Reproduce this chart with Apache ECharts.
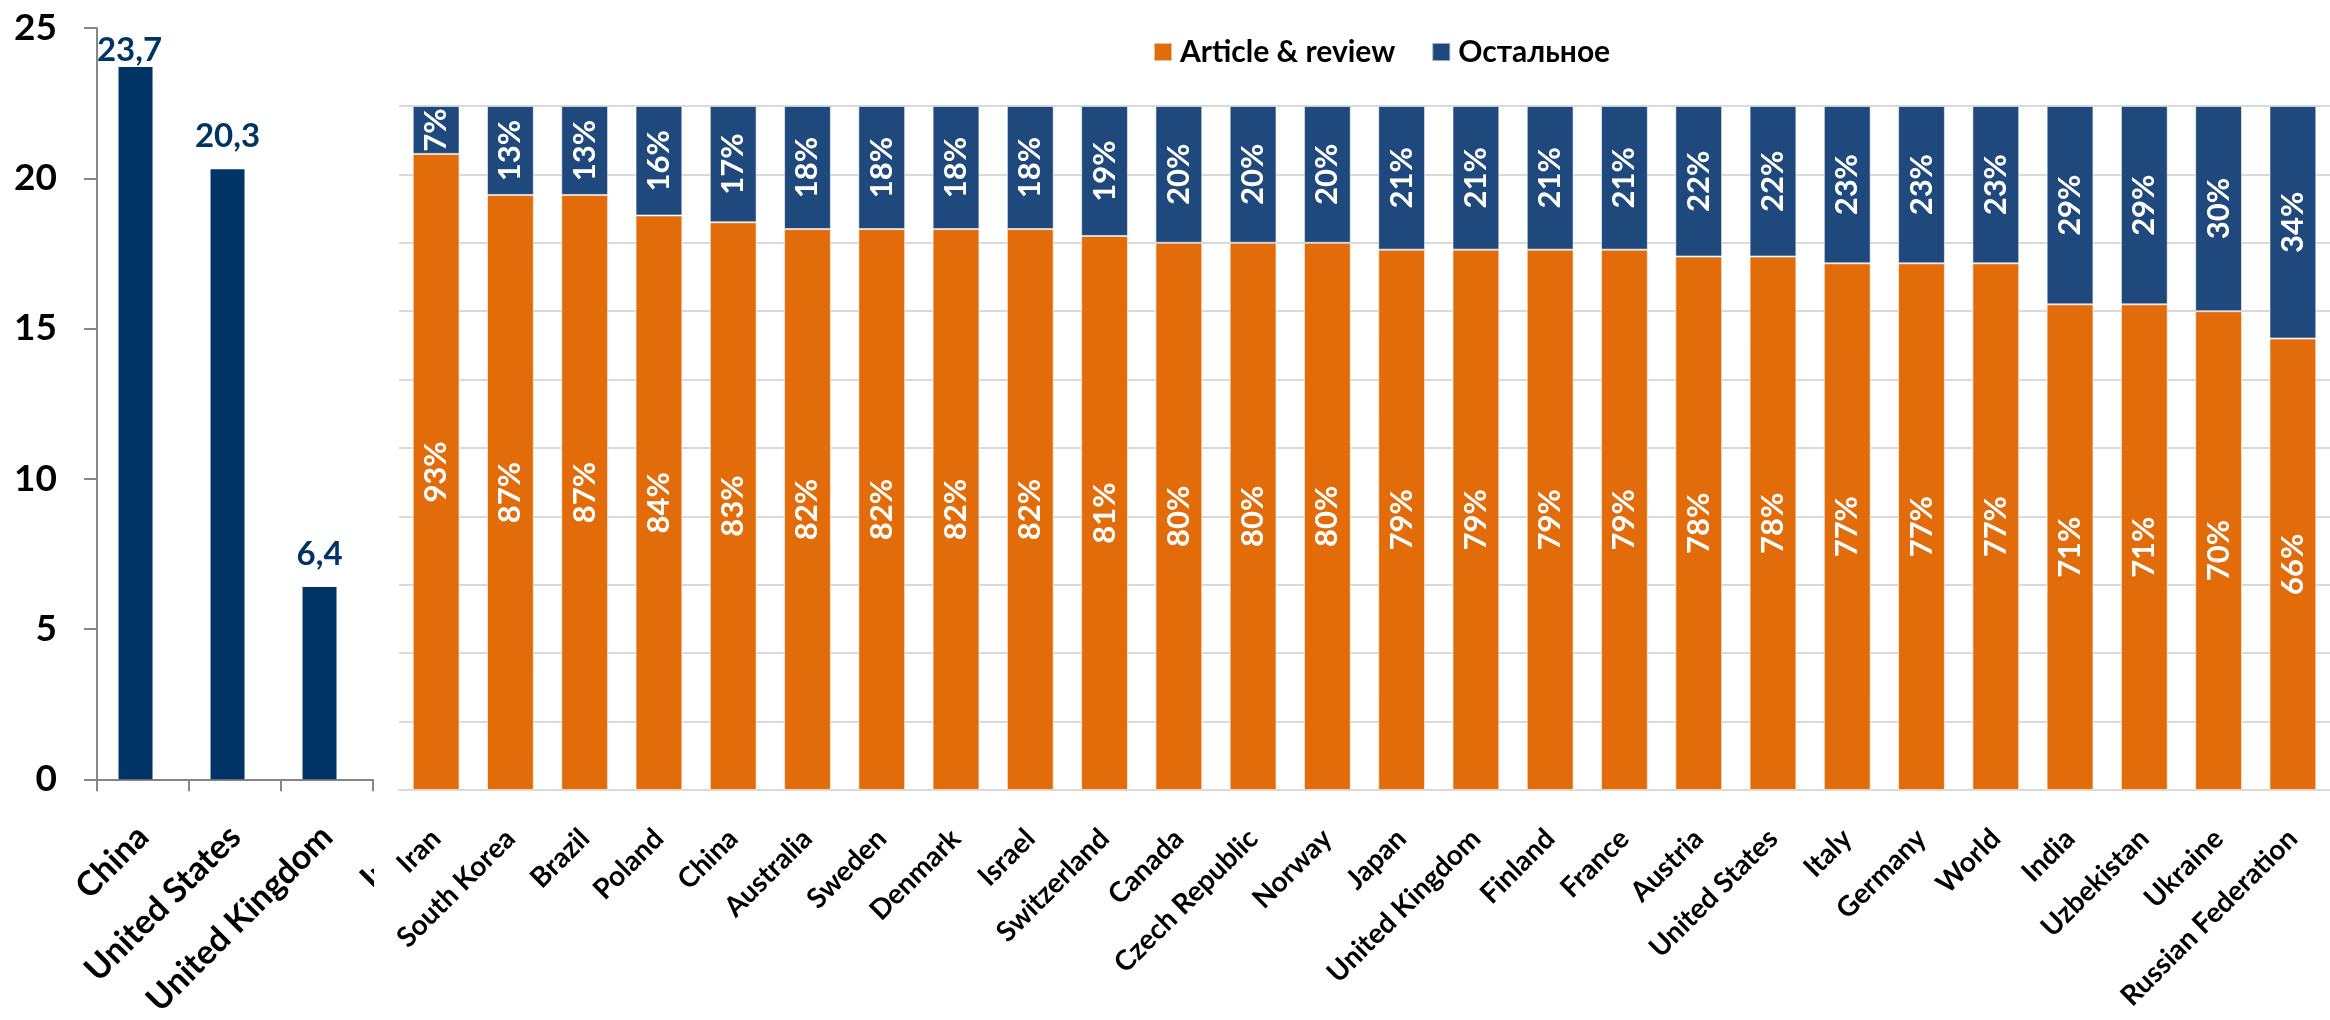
<!DOCTYPE html>
<html>
<head>
<meta charset="utf-8">
<style>
  html, body { margin: 0; padding: 0; background: #fff; }
  #chart { width: 2330px; height: 1020px; }
</style>
<script src="https://cdn.jsdelivr.net/npm/echarts@6/dist/echarts.min.js"></script>
</head>
<body>
<div id="chart"></div>
<script>
// Left panel: totals per country
const leftCategories = ['China', 'United States', 'United Kingdom', 'India'];
const leftValues = [23.7, 20.3, 6.4, null];

// Left value axis
const leftAxisMin = 0;
const leftAxisMax = 25;
const leftAxisStep = 5;

// Right panel: share of document types, percent
const rightCategories = [
  'Iran', 'South Korea', 'Brazil', 'Poland', 'China', 'Australia', 'Sweden',
  'Denmark', 'Israel', 'Switzerland', 'Canada', 'Czech Republic', 'Norway',
  'Japan', 'United Kingdom', 'Finland', 'France', 'Austria', 'United States',
  'Italy', 'Germany', 'World', 'India', 'Uzbekistan', 'Ukraine', 'Russian Federation'
];
const articleShare = [93, 87, 87, 84, 83, 82, 82, 82, 82, 81, 80, 80, 80, 79, 79, 79, 79, 78, 78, 77, 77, 77, 71, 71, 70, 66];
const otherShare   = [7, 13, 13, 16, 17, 18, 18, 18, 18, 19, 20, 20, 20, 21, 21, 21, 21, 22, 22, 23, 23, 23, 29, 29, 30, 34];

const seriesNames = ['Article & review', 'Остальное'];

const FONT = 'Lato, "Noto Sans", "DejaVu Sans", sans-serif';
const NAVY = '#003366';
const ORANGE = '#E36C0A';
const BLUE = '#1F497D';
const AXIS_GREY = '#868686';
const GRID_GREY = '#D9D9D9';

const chart = echarts.init(document.getElementById('chart'), null, { renderer: 'canvas' });

const leftData = leftValues.map((v, i) => {
  if (i === 0) {
    // the tallest label sits tight against the top of the plot
    return { value: v, label: { distance: 0, offset: [-6, 0] } };
  }
  return v;
});

const option = {
  backgroundColor: '#fff',
  animation: false,
  textStyle: { fontFamily: FONT },
  legend: {
    data: seriesNames,
    left: 1148,
    top: 32,
    itemWidth: 18,
    itemHeight: 18,
    itemGap: 36,
    icon: 'rect',
    z: 6,
    textStyle: {
      fontFamily: FONT,
      fontWeight: 'bold',
      fontSize: 30,
      color: '#000',
      padding: [0, 0, 0, 3]
    }
  },
  grid: [
    { left: 97, top: 28, width: 368, height: 752 },
    { left: 399, top: 106, width: 1941, height: 684 }
  ],
  xAxis: [
    {
      type: 'category',
      gridIndex: 0,
      data: leftCategories,
      z: 0,
      axisLine: { show: true, lineStyle: { color: AXIS_GREY, width: 2 } },
      axisTick: { show: true, length: 12, lineStyle: { color: AXIS_GREY, width: 2 } },
      axisLabel: {
        interval: 0,
        rotate: 45,
        margin: 52,
        fontFamily: FONT,
        fontWeight: 'bold',
        fontSize: 34,
        color: '#000'
      }
    },
    {
      type: 'category',
      gridIndex: 1,
      data: rightCategories,
      z: 3,
      axisLine: { show: true, lineStyle: { color: GRID_GREY, width: 2 } },
      axisTick: { show: false },
      axisLabel: {
        interval: 0,
        rotate: 45,
        margin: 44,
        fontFamily: FONT,
        fontWeight: 'bold',
        fontSize: 28,
        color: '#000'
      }
    }
  ],
  yAxis: [
    {
      type: 'value',
      gridIndex: 0,
      min: leftAxisMin,
      max: leftAxisMax,
      interval: leftAxisStep,
      z: 0,
      axisLine: { show: true, lineStyle: { color: AXIS_GREY, width: 2 } },
      axisTick: { show: true, length: 13, lineStyle: { color: AXIS_GREY, width: 2 } },
      splitLine: { show: false },
      axisLabel: {
        margin: 40,
        fontFamily: FONT,
        fontWeight: 'bold',
        fontSize: 37,
        color: '#000'
      }
    },
    {
      type: 'value',
      gridIndex: 1,
      min: 0,
      max: 100,
      interval: 10,
      z: 3,
      axisLine: { show: false },
      axisTick: { show: false },
      axisLabel: { show: false },
      splitLine: { show: true, lineStyle: { color: GRID_GREY, width: 2 } }
    }
  ],
  graphic: [
    {
      // white panel behind the share chart
      type: 'rect',
      left: 374,
      top: 0,
      z: 2,
      silent: true,
      shape: { width: 1956, height: 1020 },
      style: { fill: '#fff' }
    }
  ],
  series: [
    {
      type: 'bar',
      xAxisIndex: 0,
      yAxisIndex: 0,
      z: 1,
      data: leftData,
      barWidth: 34,
      barGap: '-56%',
      itemStyle: { color: NAVY },
      label: {
        show: true,
        position: 'top',
        distance: 16,
        fontFamily: FONT,
        fontWeight: 'bold',
        fontSize: 33,
        color: NAVY,
        formatter: p => String(p.value).replace('.', ',')
      }
    },
    {
      type: 'bar',
      xAxisIndex: 0,
      yAxisIndex: 0,
      z: 1,
      data: leftValues.map(() => null),
      barWidth: 34,
      itemStyle: { color: NAVY }
    },
    {
      name: seriesNames[0],
      type: 'bar',
      xAxisIndex: 1,
      yAxisIndex: 1,
      stack: 'share',
      z: 4,
      barCategoryGap: '37%',
      data: articleShare,
      itemStyle: { color: ORANGE, borderColor: 'rgba(255,255,255,0.55)', borderWidth: 1 },
      label: {
        show: true,
        position: 'inside',
        rotate: 90,
        fontFamily: FONT,
        fontWeight: 'bold',
        fontSize: 31,
        color: '#fff',
        formatter: p => p.value + '%'
      }
    },
    {
      name: seriesNames[1],
      type: 'bar',
      xAxisIndex: 1,
      yAxisIndex: 1,
      stack: 'share',
      z: 4,
      barCategoryGap: '37%',
      data: otherShare,
      itemStyle: { color: BLUE, borderColor: 'rgba(255,255,255,0.55)', borderWidth: 1 },
      label: {
        show: true,
        position: 'inside',
        rotate: 90,
        fontFamily: FONT,
        fontWeight: 'bold',
        fontSize: 31,
        color: '#fff',
        formatter: p => p.value + '%'
      }
    }
  ]
};

chart.setOption(option);
</script>
</body>
</html>
